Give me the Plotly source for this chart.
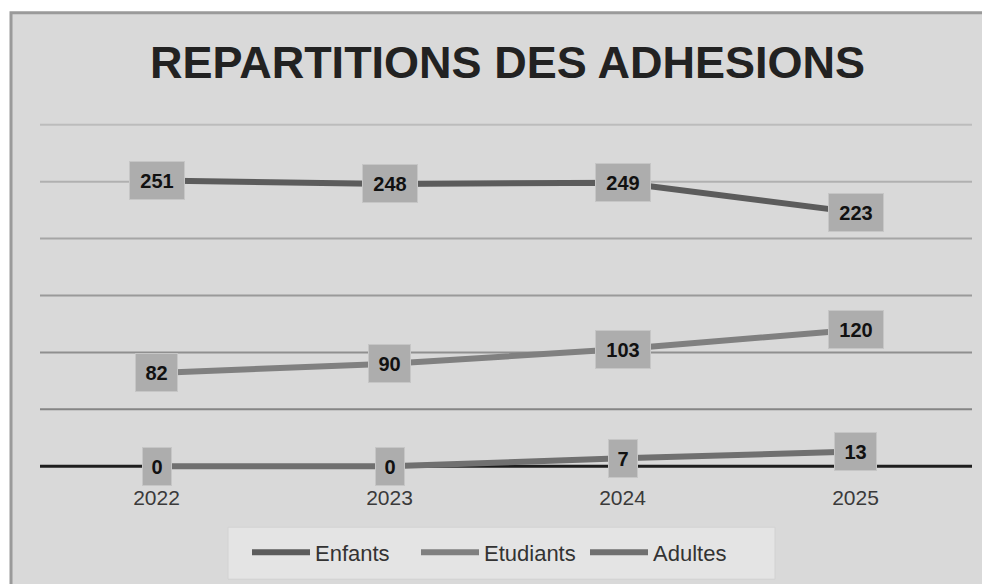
import plotly.graph_objects as go

years = ["2022", "2023", "2024", "2025"]
enfants = [251, 248, 249, 223]
etudiants = [82, 90, 103, 120]
adultes = [0, 0, 7, 13]
y_ticks = [0, 50, 100, 150, 200, 250, 300]
grid_colors = ["#1e1e1e", "#858585", "#8f8f8f", "#9a9a9a", "#a5a5a5", "#b0b0b0", "#bcbcbc"]

series = [
    ("Enfants", enfants, "#5c5c5c"),
    ("Etudiants", etudiants, "#808080"),
    ("Adultes", adultes, "#707070"),
]

OFF = 8            # page body margin
W, H = 982, 576
Y0, Y1 = -5, 305
UNIT = 342 / 300   # pixels per value unit
L, R = 32, 18
B = 576 - (459 + (0 - Y0) * UNIT)
T = 117 - (Y1 - 300) * UNIT
pw = W - L - R
ph = H - T - B

def px_x(p):
    return (p - OFF - L) / pw

def px_y(p):
    return (H - B - (p - OFF)) / ph

fig = go.Figure()
for name, vals, col in series:
    fig.add_trace(go.Scatter(
        x=list(range(len(years))), y=vals, name=name, mode="lines",
        line=dict(color=col, width=6),
        cliponaxis=False,
    ))

annotations = []
for name, vals, col in series:
    for i, yv in enumerate(vals):
        txt = str(yv)
        annotations.append(dict(
            x=i, y=yv, xref="x", yref="y", text=f"<b>{txt}</b>",
            showarrow=False, bgcolor="#adadad", borderpad=6,
            bordercolor="#c6c6c6", borderwidth=1,
            width=13 * len(txt) + 3, height=25,
            font=dict(family="Liberation Sans, Arial", size=20, color="#111111"),
            xanchor="center", yanchor="middle",
        ))

shapes = [
    dict(type="rect", xref="paper", yref="paper",
         x0=px_x(11), x1=px_x(1000), y0=px_y(620), y1=px_y(13),
         fillcolor="#d9d9d9", line=dict(color="#9a9a9a", width=3),
         layer="below"),
    dict(type="rect", xref="paper", yref="paper",
         x0=px_x(228), x1=px_x(775), y0=px_y(580), y1=px_y(528),
         fillcolor="#e4e4e4", line=dict(color="#d2d2d2", width=1),
         layer="below"),
]
for tv, gc in zip(y_ticks, grid_colors):
    shapes.append(dict(
        type="line", xref="paper", yref="y", x0=0, x1=1, y0=tv, y1=tv,
        line=dict(color=gc, width=3 if tv == 0 else 2), layer="below",
    ))

fig.update_layout(
    width=W, height=H,
    margin=dict(l=L, r=R, t=T, b=B),
    paper_bgcolor="#ffffff",
    plot_bgcolor="rgba(0,0,0,0)",
    title=dict(
        text="<b>REPARTITIONS DES ADHESIONS</b>",
        x=(507.5 - OFF) / W, xanchor="center",
        y=1 - (62 - OFF) / H, yanchor="middle",
        font=dict(family="Liberation Sans, Arial", size=45, color="#222222"),
    ),
    showlegend=True,
    legend=dict(
        orientation="h", x=px_x(247), xanchor="left",
        y=px_y(552), yanchor="middle",
        bgcolor="rgba(0,0,0,0)", borderwidth=0,
        font=dict(family="Liberation Sans, Arial", size=22, color="#333333"),
        itemwidth=58, entrywidth=96, entrywidthmode="pixels",
    ),
    annotations=annotations,
    shapes=shapes,
)

fig.update_xaxes(
    range=[-0.5, 3.5], tickvals=list(range(len(years))), ticktext=years,
    showgrid=False, zeroline=False,
    showline=False, ticks="outside", ticklen=7, tickcolor="rgba(0,0,0,0)",
    tickfont=dict(family="Liberation Sans, Arial", size=21, color="#3a3a3a"),
)
fig.update_yaxes(
    range=[Y0, Y1], tickvals=y_ticks, showticklabels=False,
    showgrid=False, zeroline=False,
)

fig.write_html("out.html")
